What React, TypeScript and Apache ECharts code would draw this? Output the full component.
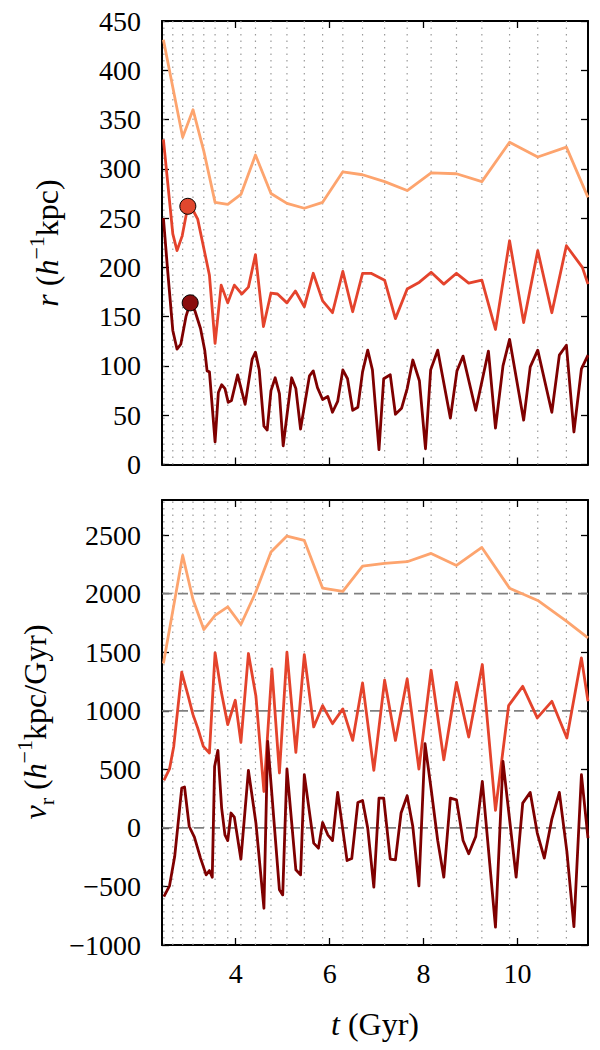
import React, { useEffect, useRef } from "react";
import * as echarts from "echarts";

// ---- data ----
const snapshotT = [2.47, 2.66, 2.87, 3.09, 3.32, 3.56, 3.83, 4.11, 4.42, 4.75, 5.09, 5.46, 5.85, 6.28, 6.7, 7.17, 7.65, 8.16, 8.7, 9.24, 9.83, 10.43, 11.04];

const orangeT = [2.46, 2.87, 3.09, 3.32, 3.56, 3.83, 4.11, 4.42, 4.75, 5.09, 5.46, 5.85, 6.28, 6.7, 7.17, 7.65, 8.16, 8.7, 9.24, 9.83, 10.43, 11.04, 11.5];
const orangeR = [431, 332, 360, 318, 266, 264, 274, 314, 275, 265, 260, 266, 297, 294, 287, 278, 296, 295, 287, 327, 312, 322, 271];
const orangeV = [1403, 2327, 1950, 1694, 1814, 1888, 1737, 2008, 2355, 2492, 2455, 2047, 2019, 2235, 2258, 2273, 2344, 2241, 2395, 2047, 1942, 1765, 1623];

const redRT = [2.46, 2.66, 2.75, 2.86, 2.98, 3.09, 3.19, 3.3, 3.44, 3.56, 3.69, 3.83, 3.97, 4.13, 4.27, 4.42, 4.59, 4.75, 4.89, 5.09, 5.27, 5.46, 5.65, 5.85, 6.06, 6.28, 6.49, 6.7, 6.88, 7.17, 7.4, 7.65, 7.91, 8.16, 8.43, 8.7, 8.96, 9.24, 9.53, 9.83, 10.13, 10.43, 10.73, 11.04, 11.38, 11.5];
const redR = [330, 234, 217, 232, 262, 258, 249, 224, 192, 123, 182, 164, 182, 173, 180, 213, 140, 174, 173, 164, 176, 160, 194, 166, 154, 196, 155, 194, 194, 187, 148, 178, 185, 195, 183, 194, 184, 187, 137, 227, 144, 217, 154, 222, 200, 183];

const darkRT = [2.46, 2.55, 2.66, 2.75, 2.83, 2.94, 3.03, 3.13, 3.25, 3.34, 3.39, 3.44, 3.56, 3.63, 3.7, 3.77, 3.84, 3.91, 4.04, 4.2, 4.35, 4.42, 4.5, 4.6, 4.67, 4.75, 4.84, 4.93, 5.01, 5.19, 5.28, 5.38, 5.57, 5.65, 5.74, 5.85, 5.96, 6.06, 6.17, 6.28, 6.38, 6.49, 6.6, 6.7, 6.81, 6.91, 7.05, 7.15, 7.29, 7.4, 7.53, 7.65, 7.77, 7.91, 8.04, 8.15, 8.3, 8.57, 8.71, 8.84, 9.11, 9.38, 9.53, 9.69, 9.83, 10.13, 10.27, 10.43, 10.73, 10.89, 11.04, 11.2, 11.36, 11.5];
const darkR = [250, 197, 136, 117, 122, 150, 164, 156, 138, 116, 95, 94, 23, 73, 81, 77, 63, 65, 91, 61, 107, 114, 96, 39, 35, 75, 88, 72, 19, 88, 77, 36, 90, 95, 78, 66, 69, 53, 64, 96, 87, 55, 58, 94, 116, 96, 15, 87, 91, 51, 57, 77, 106, 85, 16, 96, 116, 47, 95, 110, 55, 115, 37, 100, 127, 45, 99, 116, 53, 111, 121, 33, 97, 111];

const redVT = [2.47, 2.59, 2.68, 2.85, 2.98, 3.09, 3.19, 3.31, 3.44, 3.56, 3.69, 3.83, 3.99, 4.11, 4.27, 4.43, 4.6, 4.77, 4.93, 5.09, 5.28, 5.46, 5.66, 5.85, 6.06, 6.28, 6.49, 6.7, 6.94, 7.17, 7.4, 7.65, 7.9, 8.16, 8.43, 8.7, 8.96, 9.25, 9.53, 9.81, 10.11, 10.42, 10.73, 11.05, 11.36, 11.5];
const redV = [405, 503, 696, 1329, 1138, 967, 853, 696, 640, 1495, 1166, 882, 1090, 730, 1489, 1124, 311, 1358, 469, 1500, 645, 1480, 862, 1044, 890, 1016, 747, 1238, 491, 1261, 747, 1272, 503, 1346, 582, 1243, 776, 1395, 149, 1044, 1209, 939, 1081, 768, 1452, 1081];

const darkVT = [2.47, 2.59, 2.7, 2.85, 2.91, 3.01, 3.12, 3.25, 3.37, 3.44, 3.5, 3.55, 3.62, 3.7, 3.77, 3.83, 3.9, 3.97, 4.11, 4.27, 4.43, 4.6, 4.68, 4.93, 5.0, 5.09, 5.28, 5.38, 5.46, 5.66, 5.76, 5.85, 5.96, 6.06, 6.17, 6.37, 6.47, 6.6, 6.7, 6.81, 6.94, 7.05, 7.15, 7.29, 7.4, 7.52, 7.65, 7.77, 7.9, 8.03, 8.16, 8.3, 8.43, 8.57, 8.7, 8.84, 8.96, 9.11, 9.25, 9.53, 9.69, 9.97, 10.11, 10.27, 10.42, 10.57, 10.73, 10.89, 11.05, 11.2, 11.36, 11.5];
const darkV = [-587, -495, -245, 340, 349, 12, -79, -258, -401, -364, -421, 525, 662, 169, -59, -108, 127, 92, -267, 491, 41, -686, 739, -529, -572, 503, -358, -401, 454, -130, -173, 46, -59, -108, 303, -279, -262, 217, 234, -2, -506, 255, 255, -267, -273, 127, 274, 12, -495, 719, 332, -108, -421, 255, 240, -108, -221, -73, 397, -848, 568, -421, 212, 303, -44, -258, 75, 303, -201, -843, 454, -87];

const redMarker = [2.98, 262];
const darkMarker = [3.03, 164];

const rTicks = [0, 50, 100, 150, 200, 250, 300, 350, 400, 450];
const vTicks = [-1000, -500, 0, 500, 1000, 1500, 2000, 2500];
const tTicks = [4, 6, 8, 10];
const vDashed = [0, 1000, 2000];

const X_MIN = 2.43;
const X_MAX = 11.5;
const R_MIN = 0;
const R_MAX = 450;
const V_MIN = -1000;
const V_MAX = 2800;

// ---- style ----
const FONT = "'Liberation Serif', 'Times New Roman', serif";
const C_ORANGE = "#FDA46E";
const C_RED = "#E4432C";
const C_DARK = "#7F0000";

const pairs = (t: number[], v: number[]) => t.map((x, i) => [x, v[i]]);
const fmt = (v: number) => (v < 0 ? "\u2212" + Math.abs(v) : String(v));

export default function App() {
  const ref = useRef<HTMLDivElement>(null);

  useEffect(() => {
    if (!ref.current) return;
    const chart = echarts.init(ref.current, undefined, { renderer: "svg" });

    const frame = { show: true, onZero: false, lineStyle: { color: "#000", width: 2 } };
    const tick = (vals: number[]) => ({ show: true, inside: true, length: 7, customValues: vals, lineStyle: { color: "#000", width: 1.3 } });
    const labelStyle = { fontFamily: FONT, fontSize: 28, color: "#000" };

    const xAxis: any[] = [];
    const yAxis: any[] = [];
    [0, 1].forEach((g) => {
      ["bottom", "top"].forEach((pos) => {
        xAxis.push({
          type: "value", gridIndex: g, position: pos, min: X_MIN, max: X_MAX,
          axisLine: frame, axisTick: tick(tTicks), splitLine: { show: false },
          axisLabel: g === 1 && pos === "bottom"
            ? { show: true, customValues: tTicks, margin: 14, formatter: fmt, ...labelStyle }
            : { show: false },
        });
      });
      const ticks = g === 0 ? rTicks : vTicks;
      ["left", "right"].forEach((pos) => {
        yAxis.push({
          type: "value", gridIndex: g, position: pos,
          min: g === 0 ? R_MIN : V_MIN, max: g === 0 ? R_MAX : V_MAX,
          axisLine: frame, axisTick: tick(ticks), splitLine: { show: false },
          axisLabel: pos === "left"
            ? { show: true, customValues: ticks, margin: 21, formatter: fmt, ...labelStyle }
            : { show: false },
        });
      });
    });

    const series: any[] = [];
    // dotted snapshot lines in both panels
    [0, 1].forEach((g) => {
      const lo = g === 0 ? R_MIN : V_MIN;
      const hi = g === 0 ? R_MAX : V_MAX;
      snapshotT.forEach((t) => {
        series.push({
          type: "line", xAxisIndex: g * 2, yAxisIndex: g * 2, data: [[t, lo], [t, hi]],
          symbol: "none", silent: true, z: 1,
          lineStyle: { color: "#9a9a9a", width: 1.2, type: [1.5, 5] },
        });
      });
    });
    // dashed reference levels in the lower panel
    vDashed.forEach((v) => {
      series.push({
        type: "line", xAxisIndex: 2, yAxisIndex: 2, data: [[X_MIN, v], [X_MAX, v]],
        symbol: "none", silent: true, z: 1,
        lineStyle: { color: "#7f7f7f", width: 1.8, type: [10, 6] },
      });
    });

    const addLine = (g: number, t: number[], v: number[], color: string) =>
      series.push({
        type: "line", xAxisIndex: g * 2, yAxisIndex: g * 2, data: pairs(t, v),
        symbol: "none", z: 3, lineStyle: { color, width: 2.8, join: "round" },
      });

    addLine(0, orangeT, orangeR, C_ORANGE);
    addLine(0, redRT, redR, C_RED);
    addLine(0, darkRT, darkR, C_DARK);
    addLine(1, orangeT, orangeV, C_ORANGE);
    addLine(1, redVT, redV, C_RED);
    addLine(1, darkVT, darkV, C_DARK);

    series.push({
      type: "scatter", xAxisIndex: 0, yAxisIndex: 0, data: [redMarker], symbolSize: 16, z: 5,
      itemStyle: { color: "#E0472E", borderColor: "#000", borderWidth: 1, opacity: 1 },
    });
    series.push({
      type: "scatter", xAxisIndex: 0, yAxisIndex: 0, data: [darkMarker], symbolSize: 16, z: 5,
      itemStyle: { color: "#8A0E0E", borderColor: "#000", borderWidth: 1, opacity: 1 },
    });

    const rich = {
      n: { fontFamily: FONT, fontSize: 32, lineHeight: 44, verticalAlign: "middle", color: "#000" },
      i: { fontFamily: FONT, fontSize: 32, fontStyle: "italic", lineHeight: 44, verticalAlign: "middle", color: "#000" },
      sup: { fontFamily: FONT, fontSize: 22, lineHeight: 22, verticalAlign: "top", color: "#000" },
      sub: { fontFamily: FONT, fontSize: 22, lineHeight: 31, verticalAlign: "bottom", color: "#000" },
    };

    chart.setOption({
      animation: false,
      backgroundColor: "#fff",
      grid: [
        { left: 162, top: 21, width: 426, height: 443.5 },
        { left: 162, top: 500, width: 426, height: 445 },
      ],
      xAxis,
      yAxis,
      series,
      graphic: [
        {
          type: "text", x: 47, y: 243, rotation: Math.PI / 2,
          style: { text: "{i|r}{n| (}{i|h}{sup|\u22121}{n|kpc)}", rich, align: "center", verticalAlign: "middle" },
        },
        {
          type: "text", x: 35, y: 722, rotation: Math.PI / 2,
          style: { text: "{i|v}{sub|r}{n| (}{i|h}{sup|\u22121}{n|kpc/Gyr)}", rich, align: "center", verticalAlign: "middle" },
        },
        {
          type: "text", x: 375, y: 1024,
          style: { text: "{i|t}{n| (Gyr)}", rich, align: "center", verticalAlign: "middle" },
        },
      ],
    });

    return () => chart.dispose();
  }, []);

  return <div ref={ref} style={{ position: "fixed", left: 0, top: 0, width: 600, height: 1050, background: "#fff" }} />;
}
